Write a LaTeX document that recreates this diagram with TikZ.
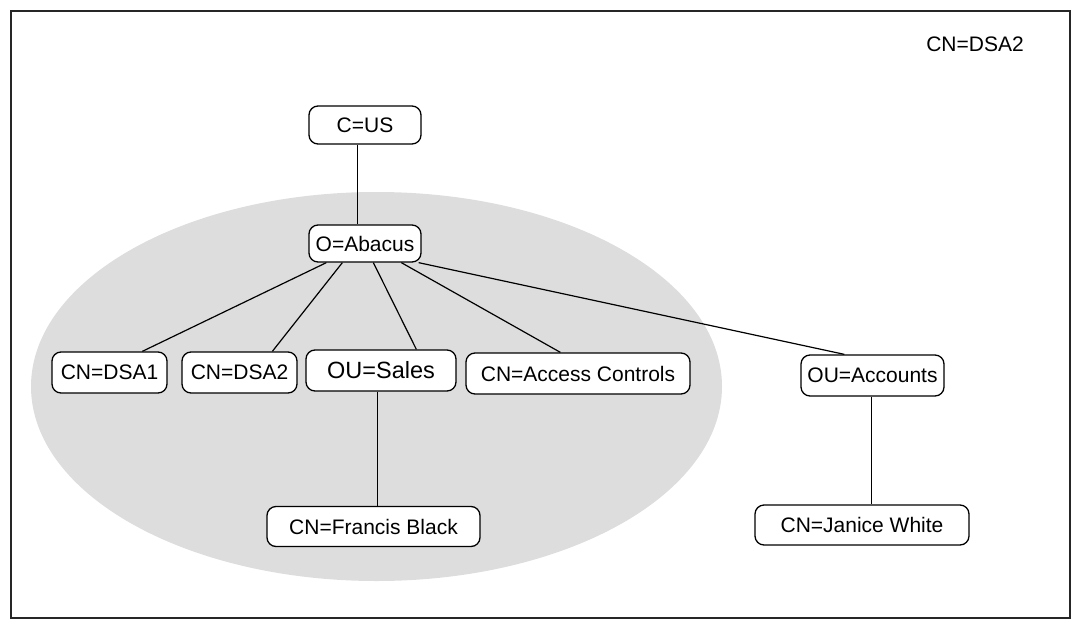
\documentclass[tikz,border=0pt]{standalone}
\usepackage{fontspec}
\setmainfont{Liberation Sans}
\definecolor{ellgray}{RGB}{221,221,221}
\begin{document}
\begin{tikzpicture}[x=1pt,y=-1pt,
  entry/.style={draw=black, line width=1.3pt, fill=white, rounded corners=9pt, inner sep=0pt,
    font=\fontsize{21}{24}\selectfont},
  link/.style={draw=black, line width=1.2pt}]
\useasboundingbox (0,0) rectangle (1081,629);
\draw[line width=1.5pt, draw=black!85] (11,11) rectangle (1070,618);
\fill[ellgray] (376.5,386.5) ellipse [x radius=345.5, y radius=194.5];
\node[font=\fontsize{21}{24}\selectfont] (dsalabel) at (975,44) {CN=DSA2};
\node[entry, minimum width=112pt, minimum height=38pt] (cus) at (365,125) {C=US};
\node[entry, minimum width=112pt, minimum height=37pt] (abacus) at (365,243.5) {O=Abacus};
\node[entry, minimum width=115pt, minimum height=41pt] (dsa1) at (109.5,372.5) {CN=DSA1};
\node[entry, minimum width=115pt, minimum height=41pt] (dsa2) at (239.5,372.5) {CN=DSA2};
\node[entry, minimum width=150pt, minimum height=41pt, font=\fontsize{23.5}{26}\selectfont] (sales) at (381,370.5) {OU=Sales};
\node[entry, minimum width=224pt, minimum height=41pt] (access) at (578,373.5) {CN=Access Controls};
\node[entry, minimum width=143pt, minimum height=41pt] (accounts) at (872.5,375.5) {OU=Accounts};
\node[entry, minimum width=213pt, minimum height=40pt] (francis) at (373.5,526.5) {CN=Francis Black};
\node[entry, minimum width=214pt, minimum height=40pt] (janice) at (862,525) {CN=Janice White};
\draw[link] ([xshift=49pt]cus.south west) -- ([xshift=49pt]abacus.north west);
\draw[link] ([xshift=18pt]abacus.south west) -- ([xshift=91pt]dsa1.north west);
\draw[link] ([xshift=34pt]abacus.south west) -- ([xshift=91pt]dsa2.north west);
\draw[link] ([xshift=65pt]abacus.south west) -- ([xshift=111pt]sales.north west);
\draw[link] ([xshift=93pt]abacus.south west) -- ([xshift=95pt]access.north west);
\draw[link] ([xshift=-3pt]abacus.south east) -- ([xshift=44pt]accounts.north west);
\draw[link] ([xshift=72pt]sales.south west) -- ([xshift=111pt]francis.north west);
\draw[link] ([xshift=71pt]accounts.south west) -- ([xshift=117pt]janice.north west);
\end{tikzpicture}
\end{document}
